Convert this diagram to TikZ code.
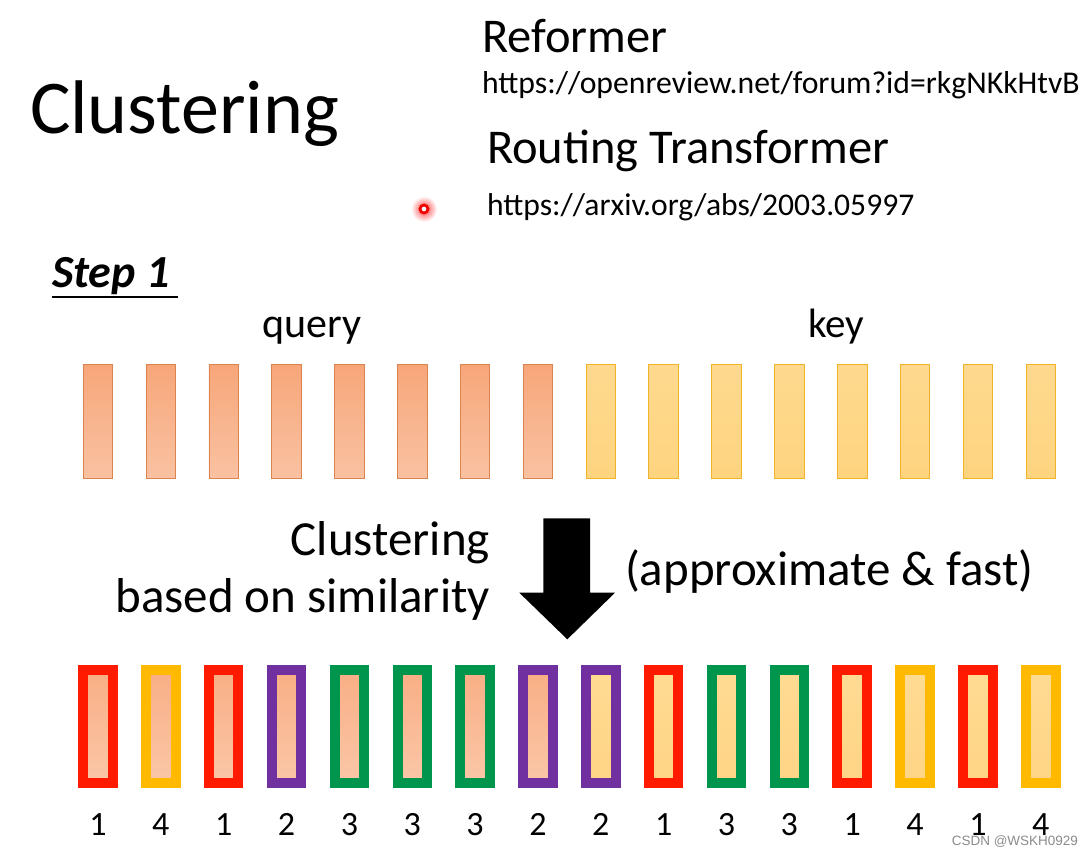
\documentclass[tikz,border=0pt]{standalone}
\usepackage{fontspec}
\setmainfont{Carlito}
\newfontfamily\wmfont{Liberation Sans}
\definecolor{qtop}{HTML}{F7A679}
\definecolor{qbot}{HTML}{F9C2A2}
\definecolor{qborder}{HTML}{DC8450}
\definecolor{ktop}{HTML}{FED98E}
\definecolor{kbot}{HTML}{FED47F}
\definecolor{kborder}{HTML}{F0B42A}
\definecolor{iqtop}{HTML}{F9AE84}
\definecolor{iqbot}{HTML}{FAC7A8}
\definecolor{iktop}{HTML}{FFDB92}
\definecolor{ikbot}{HTML}{FFD486}
\definecolor{c1}{HTML}{FF1A00}
\definecolor{c2}{HTML}{7030A0}
\definecolor{c3}{HTML}{00954C}
\definecolor{c4}{HTML}{FFBA00}
\tikzset{
  txt/.style={inner sep=0pt, outer sep=0pt},
  qbar/.style={draw=qborder, line width=0.9pt, top color=qtop, bottom color=qbot,
    minimum width=29.5pt, minimum height=114pt, inner sep=0pt},
  kbar/.style={draw=kborder, line width=0.9pt, top color=ktop, bottom color=kbot,
    minimum width=29.5pt, minimum height=114pt, inner sep=0pt},
  cbar/.style={line width=10pt, minimum width=29.5pt, minimum height=113.3pt, inner sep=0pt},
  numlab/.style={txt, anchor=base, font=\fontsize{34}{34}\selectfont},
  bigarrow/.style={fill=black},
}
\begin{document}
\begin{tikzpicture}[x=1pt,y=-1pt]
\useasboundingbox (0,0) rectangle (1090,854);
\fill[white] (0,0) rectangle (1090,854);

% titles
\node[txt, anchor=base west, font=\fontsize{76}{76}\selectfont] (title) at (30,133) {Clustering};
\node[txt, anchor=base west, font=\fontsize{48.5}{48.5}\selectfont] (ref) at (482,52) {Reformer};
\node[txt, anchor=base west, font=\fontsize{31.7}{31.7}\selectfont] (refurl) at (482,93) {https://openreview.net/forum?id=rkgNKkHtvB};
\node[txt, anchor=base west, font=\fontsize{48.5}{48.5}\selectfont] (rt) at (487,163) {Routing Transformer};
\node[txt, anchor=base west, font=\fontsize{31.6}{31.6}\selectfont] (rturl) at (487,215) {https://arxiv.org/abs/2003.05997};

% red pointer dot
\shade[inner color=red!75, outer color=white] (424,209) circle (13);
\draw[red!95!black, line width=2.8pt, fill=white] (424,209) circle (4);

% step 1
\node[txt, anchor=base west, font=\fontsize{46}{46}\selectfont\bfseries\itshape] (step) at (52,287) {Step 1};
\draw[line width=2pt] (52,297) -- (178,297);

% labels
\node[txt, anchor=base, font=\fontsize{42}{42}\selectfont] (qlab) at (312,337) {query};
\node[txt, anchor=base, font=\fontsize{41}{41}\selectfont] (klab) at (836,337) {key};

% top bars
\foreach \i in {0,...,15} {
  \pgfmathsetmacro{\xx}{98+62.85*\i}
  \ifnum\i<8
    \node[qbar] (t\i) at (\xx,421.3) {};
  \else
    \node[kbar] (t\i) at (\xx,421.3) {};
  \fi
}

% big arrow
\fill[bigarrow] (543.3,518.3) -- (590,518.3) -- (590,592.7) -- (615,592.7) -- (567.3,639.3)
  -- (519.3,592.7) -- (543.3,592.7) -- cycle;
\node[txt, anchor=base east, font=\fontsize{49}{49}\selectfont] (cl1) at (490,555) {Clustering};
\node[txt, anchor=base east, font=\fontsize{49}{49}\selectfont] (cl2) at (490,612) {based on similarity};
\node[txt, anchor=base west, font=\fontsize{49}{49}\selectfont] (approx) at (625,585) {(approximate \& fast)};

% clustered bars
\foreach \n [count=\j from 0] in {1,4,1,2,3,3,3,2,2,1,3,3,1,4,1,4} {
  \pgfmathsetmacro{\xx}{98+62.85*\j}
  \ifnum\j<8 \def\ft{iqtop}\def\fb{iqbot}\else\def\ft{iktop}\def\fb{ikbot}\fi
  \node[cbar, draw=c\n, top color=\ft, bottom color=\fb] (b\j) at (\xx,726.7) {};
  \node[numlab] (n\j) at (\xx,835) {\n};
}

% watermark
\node[txt, anchor=base east, font=\wmfont\fontsize{13.5}{13.5}\selectfont, text=black!45] (wm) at (1078,845) {CSDN @WSKH0929};
\end{tikzpicture}
\end{document}
